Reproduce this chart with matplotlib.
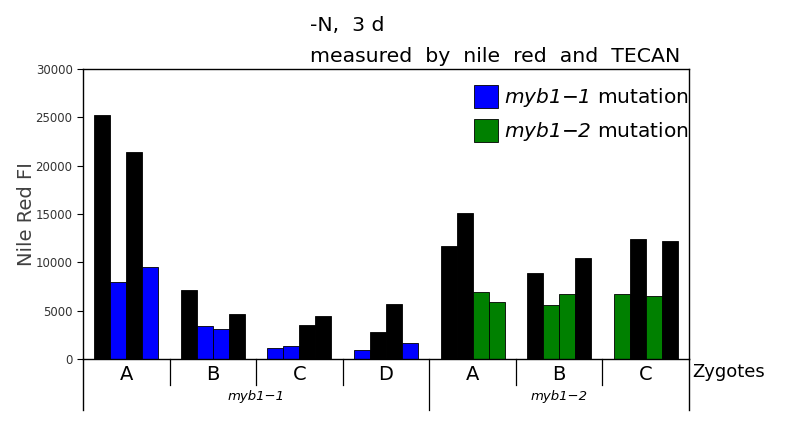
import numpy as np
import matplotlib
matplotlib.use("Agg")
import matplotlib.pyplot as plt
from matplotlib.patches import Patch

# italic math text for the strain names inside mixed labels
plt.rcParams['mathtext.fontset'] = 'custom'
plt.rcParams['mathtext.rm'] = 'DejaVu Sans:italic'
plt.rcParams['mathtext.it'] = 'DejaVu Sans:italic'

# zygote groups along the x axis
group_letters = ['A', 'B', 'C', 'D', 'A', 'B', 'C']
group_strain = ['myb1-1', 'myb1-1', 'myb1-1', 'myb1-1', 'myb1-2', 'myb1-2', 'myb1-2']
strains = ['myb1-1', 'myb1-2']

# Nile red fluorescence of the 4 zygotes per group
nile_red = [
    [25200, 8000, 21400, 9500],
    [7100, 3400, 3100, 4650],
    [1100, 1300, 3500, 4450],
    [900, 2800, 5700, 1650],
    [11700, 15100, 6900, 5900],
    [8900, 5600, 6700, 10450],
    [6700, 12400, 6500, 12200],
]
# 1 = carries the mutation
is_mutant = [
    [0, 1, 0, 1],
    [0, 1, 1, 0],
    [1, 1, 0, 0],
    [1, 0, 0, 1],
    [0, 0, 1, 1],
    [0, 1, 1, 0],
    [1, 0, 1, 0],
]
mut_color = {'myb1-1': '#0000ff', 'myb1-2': '#008000'}

fig = plt.figure(figsize=(7.87, 4.23), dpi=100)
ax = fig.add_axes([83/787, 1-359/423, 606/787, 290/423])

w = 0.185
for gi in range(len(group_letters)):
    xs = gi + 0.5 + (np.arange(4) - 1.5) * w
    cols = [mut_color[group_strain[gi]] if m else 'black' for m in is_mutant[gi]]
    ax.bar(xs, nile_red[gi], width=w, color=cols, edgecolor='black', linewidth=0.6)

ax.set_xlim(0, len(group_letters))
ax.set_ylim(0, 30000)
ax.set_yticks(np.arange(0, 30001, 5000))
ax.tick_params(axis='y', direction='out', length=4, width=0.8, labelsize=8.5, labelcolor='#333333')
ax.set_xticks([])
for s in ax.spines.values():
    s.set_linewidth(1.0)

# category axis drawn under the plot
tr = ax.get_xaxis_transform()
for gi in range(1, len(group_letters)):
    long_line = group_strain[gi] != group_strain[gi-1]
    ax.plot([gi, gi], [0, -0.176 if long_line else -0.09], color='black', lw=0.9,
            transform=tr, clip_on=False)
for xx in [0, len(group_letters)]:
    ax.plot([xx, xx], [0, -0.176], color='black', lw=1.0, transform=tr, clip_on=False)
for gi, letter in enumerate(group_letters):
    ax.text(gi + 0.5, -0.055, letter, transform=tr, ha='center', va='center', fontsize=14)
for st in strains:
    idx = [i for i, g in enumerate(group_strain) if g == st]
    ax.text((idx[0] + idx[-1] + 1) / 2, -0.128, st.replace('-', '\u2212'), transform=tr,
            ha='center', va='center', fontsize=9.5, style='italic')
ax.text(1.005, -0.045, 'Zygotes', transform=ax.transAxes, ha='left', va='center', fontsize=13)

fig.text(27/787, 1-214/423, 'Nile Red FI', rotation=90, ha='center', va='center',
         fontsize=14, color='#404040')
fig.text(310/787, 1-31/423, '-N,  3 d', fontsize=14.7, va='baseline')
fig.text(310/787, 1-62/423, 'measured  by  nile  red  and  TECAN', fontsize=14.7, va='baseline')

handles = [Patch(facecolor=mut_color[s], edgecolor='black', linewidth=0.6) for s in strains]
labels = [r'$\mathrm{myb1{-}%s}$ mutation' % s[-1] for s in strains]
ax.legend(handles, labels, loc='upper right', bbox_to_anchor=(1.0, 1 - 16/290),
          frameon=False, fontsize=14.5, borderaxespad=0, borderpad=0,
          handlelength=1.2, handleheight=1.35, handletextpad=0.3, labelspacing=0.5)

fig.savefig('out.png', dpi=100)
